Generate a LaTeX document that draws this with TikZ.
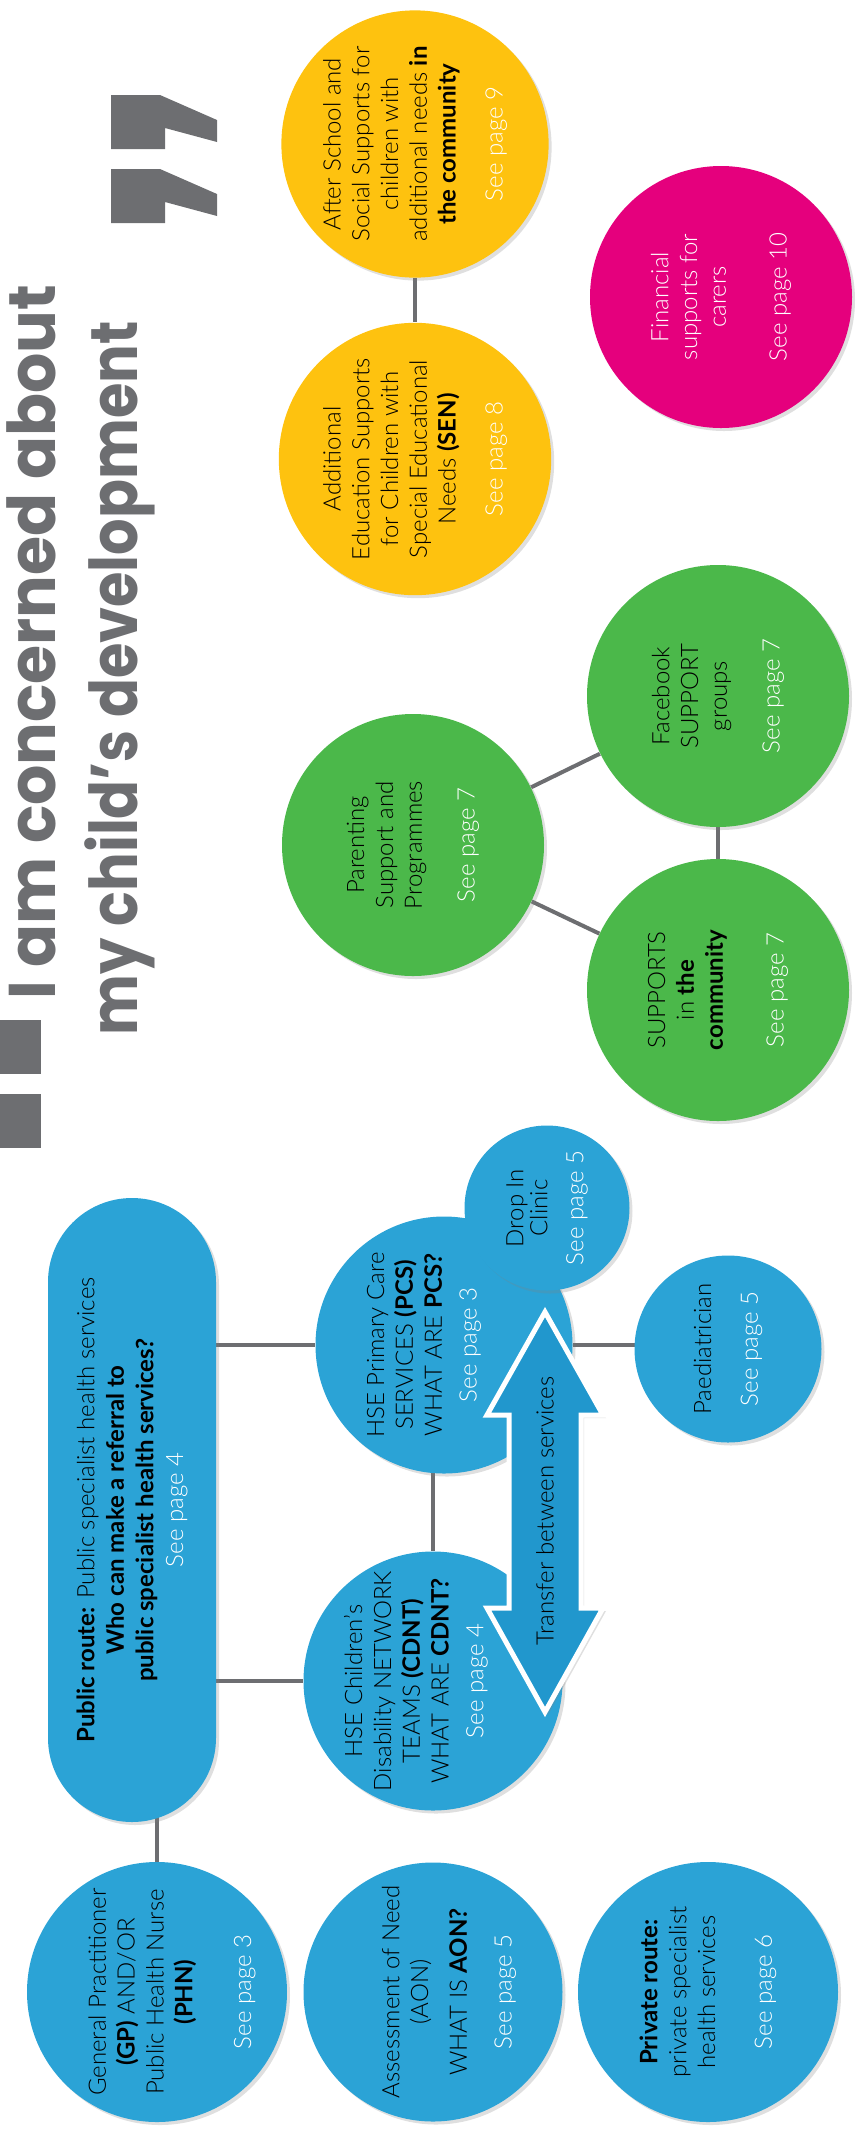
\documentclass[tikz,border=0pt]{standalone}
\usepackage{fontspec}
\setmainfont{Lato}[UprightFont=* Light, BoldFont=* Bold]
\newfontfamily\headfont{Poppins}
\usetikzlibrary{shadows}
\usetikzlibrary{backgrounds}

\definecolor{sunyellow}{HTML}{FEC20F}
\definecolor{carepink}{HTML}{E5007D}
\definecolor{leafgreen}{HTML}{4BB84A}
\definecolor{hseblue}{HTML}{2BA3D6}
\definecolor{arrowblue}{HTML}{2197CD}
\definecolor{inkgray}{HTML}{6D6E71}

\newcommand{\seepg}[1]{\textcolor{white}{See page #1}}

\tikzset{
  bubble/.style={circle, inner sep=0pt, rotate=90, align=center, minimum size=131pt,
    font=\fontsize{12}{14.4}\selectfont,
    drop shadow={shadow xshift=1.5pt, shadow yshift=-1.5pt, opacity=.25}},
  bubtext/.style={rotate=90, inner sep=0pt, align=center, font=\fontsize{12}{14.4}\selectfont},
  headline/.style={rotate=90, inner sep=0pt, text=inkgray, font=\headfont\bfseries\fontsize{33}{40}\selectfont},
  link/.style={draw=inkgray, line width=2pt}
}

\begin{document}
\begin{tikzpicture}[x=0.5pt,y=-0.5pt]
\useasboundingbox (0,0) rectangle (858,2133);

% headline
\fill[inkgray] (0,1020) rectangle (41,1074);
\fill[inkgray] (0,1094) rectangle (41,1148);
\node[headline, anchor=base west] (headA) at (55,1000) {\scalebox{0.96}[1]{I am concerned about}};
\node[headline, anchor=base west] (headB) at (137,1036) {\scalebox{0.87}[1]{my child’s development}};
\fill[inkgray] (111,95) -- (160,95) -- (217,120) -- (217,142) -- (165,128) -- (165,149) -- (111,149) -- cycle;
\fill[inkgray] (111,169) -- (160,169) -- (217,194) -- (217,216) -- (165,202) -- (165,223) -- (111,223) -- cycle;

% education and community
\node[bubble, fill=sunyellow] (after) at (415,144) {After School and\\ Social Supports for\\ children with\\ additional needs \textbf{in}\\ \textbf{the community}\\[9pt] \seepg{9}};
\node[bubble, fill=sunyellow] (sen) at (415,459) {Additional\\ Education Supports\\ for Children with\\ Special Educational\\ Needs \textbf{(SEN)}\\[9pt] \seepg{8}};
\node[bubble, fill=carepink, text=white] (carers) at (721,297) {Financial\\ supports for\\ carers\\[16pt] See page 10};
\node[bubble, fill=leafgreen] (parent) at (413,845) {Parenting\\ Support and\\ Programmes\\[12pt] \seepg{7}};
\node[bubble, fill=leafgreen] (fbgroup) at (718,696) {Facebook\\ SUPPORT\\ groups\\[12pt] \seepg{7}};
\node[bubble, fill=leafgreen] (commun) at (718,990) {SUPPORTS\\ in \textbf{the}\\ \textbf{community}\\[16pt] \seepg{7}};

% health services
\node[rectangle, rounded corners=42pt, minimum width=312pt, minimum height=84pt, rotate=90, align=center,
  fill=hseblue, font=\fontsize{12}{14.8}\selectfont,
  drop shadow={shadow xshift=1.5pt, shadow yshift=-1.5pt, opacity=.25}] (public) at (132,1510)
  {\textbf{Public route:} Public specialist health services\\ \textbf{Who can make a referral to}\\ \textbf{public specialist health services?}\\ \seepg{4}};
\node[bubble, fill=hseblue, minimum size=128.5pt] (pcs) at (444,1345) {};
\node[bubtext] (pcstext) at (424,1345) {HSE Primary Care\\ SERVICES \textbf{(PCS)}\\ WHAT ARE \textbf{PCS?}\\[3pt] \seepg{3}};
\node[bubble, fill=hseblue, minimum size=82.5pt, font=\fontsize{12}{12}\selectfont] (dropin) at (547,1208) {Drop In\\ Clinic\\[6pt] \seepg{5}};
\node[bubble, fill=hseblue, minimum size=93.5pt] (paed) at (728,1349) {Paediatrician\\[9pt] \seepg{5}};
\node[bubble, fill=hseblue, minimum size=129.5pt] (cdnt) at (433,1681) {};
\node[bubtext] (cdnttext) at (416,1681) {HSE Children’s\\ Disability NETWORK\\ TEAMS \textbf{(CDNT)}\\ WHAT ARE \textbf{CDNT?}\\[3pt] \seepg{4}};
\node[bubble, fill=hseblue, minimum size=130pt] (gp) at (157,1992) {};
\node[bubtext] (gptext) at (172,1992) {General Practitioner\\ \textbf{(GP)} AND/OR\\ Public Health Nurse\\ \textbf{(PHN)}\\[15pt] \seepg{3}};
\node[bubble, fill=hseblue, minimum size=129.5pt] (aon) at (433,1992) {};
\node[bubtext] (aontext) at (449,1992) {Assessment of Need\\ (AON)\\[5pt] WHAT IS \textbf{AON?}\\[8pt] \seepg{5}};
\node[bubble, fill=hseblue, minimum size=130pt] (private) at (708,1992) {\textbf{Private route:}\\ private specialist\\ health services\\[14pt] \seepg{6}};

% transfer arrow
\fill[arrowblue, draw=white, line width=2.5pt, line join=miter,
  drop shadow={shadow xshift=1.5pt, shadow yshift=-1.5pt, opacity=.25}]
  (545,1312) -- (603,1415) -- (581,1415) -- (581,1608) -- (603,1608) -- (545,1712)
  -- (487,1608) -- (509,1608) -- (509,1415) -- (487,1415) -- cycle;
\node[rotate=90, font=\fontsize{12}{14.4}\selectfont] (transfer) at (545,1511) {Transfer between services};

% links
\begin{scope}[on background layer]
\draw[link] (after) -- (sen);
\draw[link] (parent) -- (fbgroup);
\draw[link] (parent) -- (commun);
\draw[link] (fbgroup) -- (commun);
\draw[link] (public |- pcs) -- (pcs);
\draw[link] (public |- cdnt) -- (cdnt);
\draw[link] (gp |- public) -- (gp);
\draw[link] (cdnt |- pcs) -- (cdnt);
\draw[link] (pcs) -- (pcs -| paed);
\end{scope}
\end{tikzpicture}
\end{document}
